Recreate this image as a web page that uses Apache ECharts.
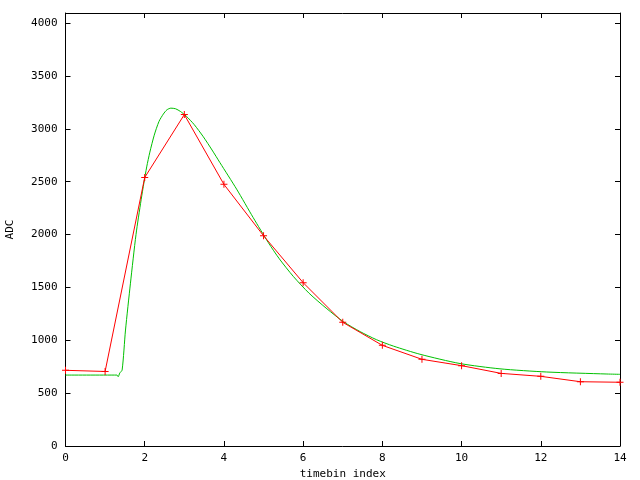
<!DOCTYPE html>
<html>
<head>
<meta charset="utf-8">
<script src="https://cdn.jsdelivr.net/npm/echarts@6/dist/echarts.min.js"></script>
<style>html,body{margin:0;padding:0;background:#fff;}#c{width:640px;height:480px;}</style>
</head>
<body>
<div id="c"></div>
<script>
// measured ADC samples (red, with markers)
const sampleX = [0, 1, 2, 3, 4, 5, 6, 7, 8, 9, 10, 11, 12, 13, 14];
const sampleY = [716, 705, 2540, 3135, 2475, 1989, 1545, 1170, 952, 820, 760, 687, 659, 608, 603];
// fitted curve (green)
const fitX = [0, 1.30, 1.33, 1.37, 1.43, 1.515, 1.64, 1.78, 1.91, 1.98, 2.05, 2.13, 2.24, 2.36, 2.47, 2.56, 2.66, 2.78, 2.90, 3.05, 3.25, 3.48, 3.70, 3.90, 4.32, 4.74, 5.12, 5.40, 5.75, 6.15, 6.60, 7.02, 7.44, 7.85, 8.28, 8.95, 9.96, 10.97, 12.15, 13.67, 14];
const fitY = [671, 671, 655, 690, 719, 1097, 1540, 2000, 2330, 2490, 2640, 2780, 2940, 3070, 3140, 3180, 3196, 3190, 3165, 3120, 3040, 2925, 2800, 2680, 2430, 2160, 1925, 1770, 1605, 1445, 1298, 1175, 1082, 1006, 945, 868, 780, 730, 700, 681, 678];
const xTicks = [0, 2, 4, 6, 8, 10, 12, 14];
const yTicks = [0, 500, 1000, 1500, 2000, 2500, 3000, 3500, 4000];

const font = 'DejaVu Sans Mono';
const chart = echarts.init(document.getElementById('c'), null, {renderer: 'canvas'});
const lineStyleAxis = {color: '#000', width: 1};
chart.setOption({
  animation: false,
  backgroundColor: '#fff',
  grid: {left: 65.5, right: 20, top: 13, bottom: 34, containLabel: false, outerBoundsMode: 'none'},
  xAxis: [{
    type: 'value', min: 0, max: 14, interval: 2, position: 'bottom',
    name: 'timebin index', nameLocation: 'middle', nameGap: 22,
    nameTextStyle: {fontFamily: font, fontSize: 11, color: '#000'},
    axisLine: {show: true, onZero: false, lineStyle: lineStyleAxis},
    axisTick: {show: true, inside: true, length: 5, lineStyle: lineStyleAxis},
    axisLabel: {fontFamily: font, fontSize: 11, color: '#000', margin: 7,
      formatter: v => xTicks.includes(v) ? String(v) : ''},
    splitLine: {show: false}
  }, {
    type: 'value', min: 0, max: 14, interval: 2, position: 'top',
    axisLine: {show: true, onZero: false, lineStyle: lineStyleAxis},
    axisTick: {show: true, inside: true, length: 5, lineStyle: lineStyleAxis},
    axisLabel: {show: false}, splitLine: {show: false}
  }],
  yAxis: [{
    type: 'value', min: 0, max: 4096, interval: 500, position: 'left',
    name: 'ADC', nameLocation: 'middle', nameGap: 50, nameRotate: 90,
    nameTextStyle: {fontFamily: font, fontSize: 11, color: '#000'},
    axisLine: {show: true, onZero: false, lineStyle: lineStyleAxis},
    axisTick: {show: true, inside: true, length: 5, lineStyle: lineStyleAxis},
    axisLabel: {fontFamily: font, fontSize: 11, color: '#000', margin: 8,
      formatter: v => yTicks.includes(v) ? String(v) : ''},
    splitLine: {show: false}
  }, {
    type: 'value', min: 0, max: 4096, interval: 500, position: 'right',
    axisLine: {show: true, onZero: false, lineStyle: lineStyleAxis},
    axisTick: {show: true, inside: true, length: 5, lineStyle: lineStyleAxis},
    axisLabel: {show: false}, splitLine: {show: false}
  }],
  series: [{
    type: 'line', name: 'data',
    data: sampleX.map((x, i) => [x, sampleY[i]]),
    lineStyle: {color: '#ff0000', width: 1},
    itemStyle: {color: '#ff0000'},
    symbol: 'path://M3,0H4V3H7V4H4V7H3V4H0V3H3Z', symbolSize: 7,
    showSymbol: true, clip: true, z: 3
  }, {
    type: 'line', name: 'fit',
    data: fitX.map((x, i) => [x, fitY[i]]),
    smooth: 0.25,
    lineStyle: {color: '#00c000', width: 1},
    itemStyle: {color: '#00c000'},
    symbol: 'none', clip: true, z: 2
  }]
});
</script>
</body>
</html>
